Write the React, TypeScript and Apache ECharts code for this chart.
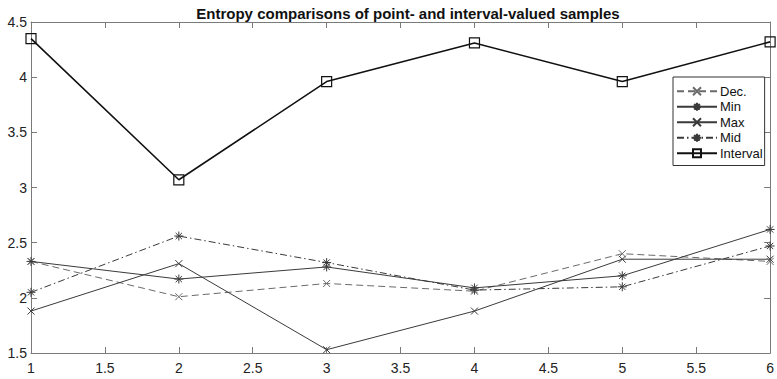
import React, { useEffect, useRef } from "react";
import * as echarts from "echarts";

const xValues = [1, 2, 3, 4, 5, 6];
const decValues = [2.33, 2.01, 2.13, 2.06, 2.4, 2.33];
const minValues = [2.33, 2.17, 2.28, 2.09, 2.2, 2.62];
const maxValues = [1.88, 2.31, 1.53, 1.88, 2.35, 2.35];
const midValues = [2.05, 2.56, 2.32, 2.07, 2.1, 2.47];
const intervalValues = [4.35, 3.07, 3.96, 4.31, 3.96, 4.32];
const seriesNames = ["Dec.", "Min", "Max", "Mid", "Interval"];
const titleText = "Entropy comparisons of point- and interval-valued samples";

const X_PATH = "path://M0,0L10,10M10,0L0,10";
const STAR_PATH = "path://M5,0L5,10M0,5L10,5M1.5,1.5L8.5,8.5M8.5,1.5L1.5,8.5";

const toPairs = (ys: number[]) => xValues.map((x, i) => [x, ys[i]]);

export default function App() {
  const ref = useRef<HTMLDivElement>(null);
  useEffect(() => {
    if (!ref.current) return;
    const chart = echarts.init(ref.current, null, { renderer: "svg" });
    const font = "'Liberation Sans', Arial, sans-serif";
    const axisColor = "#7a7a7a";
    const mkSeries = (
      name: string,
      ys: number[],
      color: string,
      width: number,
      type: any,
      symbol: string,
      size: number
    ) => ({
      name,
      type: "line",
      data: toPairs(ys),
      symbol,
      symbolSize: size,
      showSymbol: true,
      lineStyle: { color, width, type },
      itemStyle: { color: "rgba(0,0,0,0)", borderColor: color, borderWidth: 1 },
      emphasis: { disabled: true },
      z: 3,
    });
    chart.setOption({
      animation: false,
      title: {
        text: titleText,
        left: 403,
        textAlign: "center",
        top: 1,
        textStyle: { fontFamily: font, fontSize: 15, fontWeight: "bold", color: "#111" },
      },
      grid: { left: 31, right: 3, top: 22, bottom: 26, show: false },
      legend: {
        orient: "vertical",
        left: 673,
        top: 77,
        itemWidth: 40,
        itemHeight: 10,
        itemGap: 1,
        padding: [7, 2, 5, 3],
        borderColor: "#333",
        borderWidth: 1,
        backgroundColor: "#fff",
        textStyle: { fontFamily: font, fontSize: 13, lineHeight: 14.5, color: "#111", padding: [0, 0, 0, -2] },
        data: seriesNames,
        selectedMode: false,
      },
      xAxis: [
        {
          type: "value",
          min: 1,
          max: 6,
          interval: 0.5,
          axisLine: { show: true, onZero: false, lineStyle: { color: axisColor } },
          axisTick: { show: true, inside: true, length: 6, lineStyle: { color: axisColor } },
          axisLabel: { fontFamily: font, fontSize: 14, color: "#222", margin: 8 },
          splitLine: { show: false },
        },
        {
          type: "value",
          position: "top",
          min: 1,
          max: 6,
          interval: 0.5,
          axisLine: { show: true, onZero: false, lineStyle: { color: axisColor } },
          axisTick: { show: true, inside: true, length: 6, lineStyle: { color: axisColor } },
          axisLabel: { show: false },
          splitLine: { show: false },
        },
      ],
      yAxis: [
        {
          type: "value",
          min: 1.5,
          max: 4.5,
          interval: 0.5,
          axisLine: { show: true, onZero: false, lineStyle: { color: axisColor } },
          axisTick: { show: true, inside: true, length: 6, lineStyle: { color: axisColor } },
          axisLabel: { fontFamily: font, fontSize: 14, color: "#222", margin: 4 },
          splitLine: { show: false },
        },
        {
          type: "value",
          position: "right",
          min: 1.5,
          max: 4.5,
          interval: 0.5,
          axisLine: { show: true, onZero: false, lineStyle: { color: axisColor } },
          axisTick: { show: true, inside: true, length: 6, lineStyle: { color: axisColor } },
          axisLabel: { show: false },
          splitLine: { show: false },
        },
      ],
      series: [
        mkSeries("Dec.", decValues, "#6a6a6a", 1, [7, 4], X_PATH, 7),
        mkSeries("Min", minValues, "#3a3a3a", 1, "solid", STAR_PATH, 9),
        mkSeries("Max", maxValues, "#3a3a3a", 1, "solid", X_PATH, 7),
        mkSeries("Mid", midValues, "#3a3a3a", 1, [7, 3, 1.5, 3], STAR_PATH, 9),
        {
          ...mkSeries("Interval", intervalValues, "#111", 1.6, "solid", "rect", 10),
          itemStyle: { color: "rgba(255,255,255,0)", borderColor: "#111", borderWidth: 1.2 },
          z: 4,
        },
      ],
    });
    return () => chart.dispose();
  }, []);
  return (
    <div
      ref={ref}
      style={{ position: "fixed", left: 0, top: 0, width: 777, height: 379, background: "#fff" }}
    />
  );
}
